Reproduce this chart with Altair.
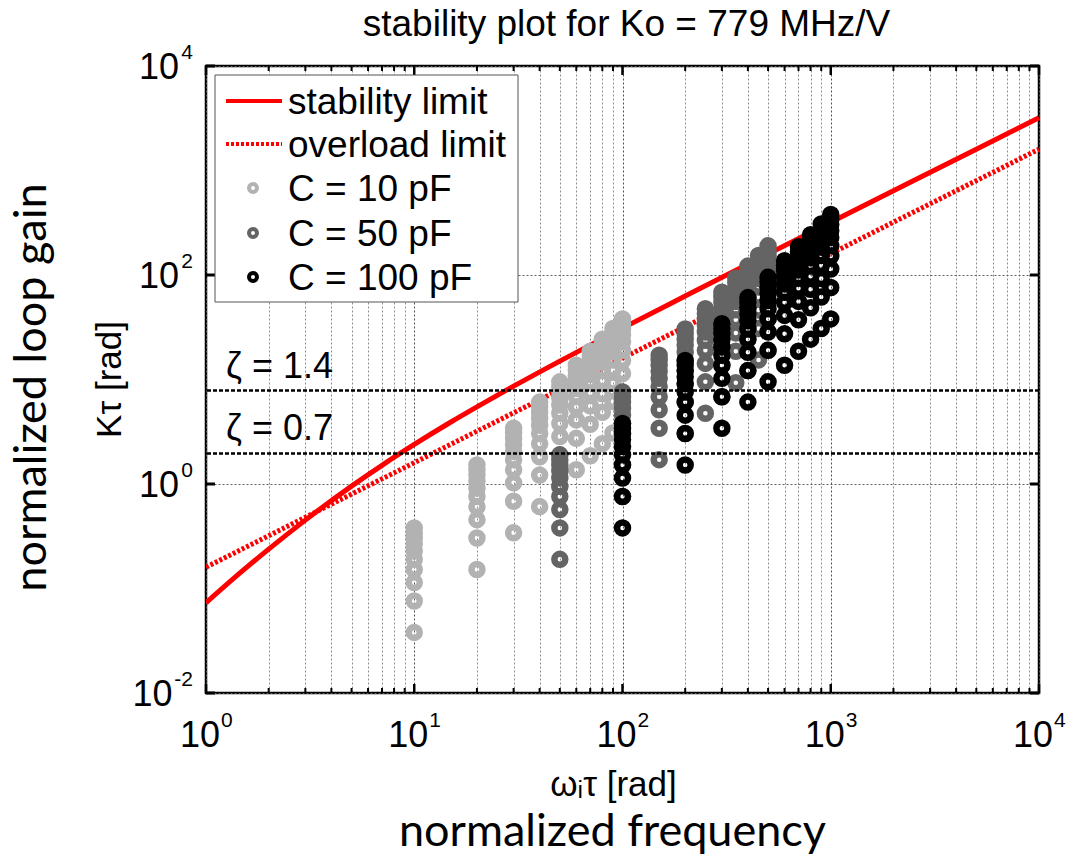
import altair as alt
import pandas as pd

TITLE = "stability plot for Ko = 779 MHz/V"
FONT = "Liberation Sans"
W, H = 833, 627

# stability and overload limits: normalized loop gain vs normalized frequency
stab_freq = [1, 1.5, 2, 3, 5, 7, 10, 15, 20, 30, 50, 100, 200, 500, 1000, 2000, 5000, 10000]
stab_gain = [0.073, 0.148, 0.238, 0.451, 0.955, 1.51, 2.39, 3.92, 5.47, 8.63, 15.0, 31.0,
             62.9, 159, 319, 639, 1600, 3200]
over_freq = [1, 10, 100, 1000, 10000]
over_gain = [0.16, 1.6, 16, 160, 1600]

# damping-ratio reference levels
zeta_labels = ["ζ = 1.4", "ζ = 0.7"]
zeta_gain = [7.84, 1.96]

# loop settings per capacitance: one column of gains for each integrator frequency
c10_freq = [10, 20, 30, 40, 50, 60, 70, 80, 90, 100]
c10_gain = [
    [0.038, 0.076, 0.114, 0.152, 0.19, 0.228, 0.266, 0.304, 0.342, 0.38],
    [0.152, 0.304, 0.456, 0.608, 0.76, 0.912, 1.064, 1.216, 1.368, 1.52],
    [0.342, 0.684, 1.026, 1.368, 1.71, 2.052, 2.394, 2.736, 3.078, 3.42],
    [0.608, 1.216, 1.824, 2.432, 3.04, 3.648, 4.256, 4.864, 5.472, 6.08],
    [0.95, 1.9, 2.85, 3.8, 4.75, 5.7, 6.65, 7.6, 8.55, 9.5],
    [1.368, 2.736, 4.104, 5.472, 6.84, 8.208, 9.576, 10.94, 12.31, 13.68],
    [1.862, 3.724, 5.586, 7.448, 9.31, 11.17, 13.03, 14.9, 16.76, 18.62],
    [2.432, 4.864, 7.296, 9.728, 12.16, 14.59, 17.02, 19.46, 21.89, 24.32],
    [3.078, 6.156, 9.234, 12.31, 15.39, 18.47, 21.55, 24.62, 27.7, 30.78],
    [3.8, 7.6, 11.4, 15.2, 19.0, 22.8, 26.6, 30.4, 34.2, 38.0],
]
c50_freq = [50, 100, 150, 200, 250, 300, 350, 400, 450, 500]
c50_gain = [
    [0.19, 0.38, 0.57, 0.76, 0.95, 1.14, 1.33, 1.52, 1.71, 1.9],
    [0.76, 1.52, 2.28, 3.04, 3.8, 4.56, 5.32, 6.08, 6.84, 7.6],
    [1.71, 3.42, 5.13, 6.84, 8.55, 10.26, 11.97, 13.68, 15.39, 17.1],
    [3.04, 6.08, 9.12, 12.16, 15.2, 18.24, 21.28, 24.32, 27.36, 30.4],
    [4.75, 9.5, 14.25, 19.0, 23.75, 28.5, 33.25, 38.0, 42.75, 47.5],
    [6.84, 13.68, 20.52, 27.36, 34.2, 41.04, 47.88, 54.72, 61.56, 68.4],
    [9.31, 18.62, 27.93, 37.24, 46.55, 55.86, 65.17, 74.48, 83.79, 93.1],
    [12.16, 24.32, 36.48, 48.64, 60.8, 72.96, 85.12, 97.28, 109.4, 121.6],
    [15.39, 30.78, 46.17, 61.56, 76.95, 92.34, 107.7, 123.1, 138.5, 153.9],
    [19.0, 38.0, 57.0, 76.0, 95.0, 114.0, 133.0, 152.0, 171.0, 190.0],
]
c100_freq = [100, 200, 300, 400, 500, 600, 700, 800, 900, 1000]
c100_gain = [
    [0.38, 0.76, 1.14, 1.52, 1.9, 2.28, 2.66, 3.04, 3.42, 3.8],
    [1.52, 3.04, 4.56, 6.08, 7.6, 9.12, 10.64, 12.16, 13.68, 15.2],
    [3.42, 6.84, 10.26, 13.68, 17.1, 20.52, 23.94, 27.36, 30.78, 34.2],
    [6.08, 12.16, 18.24, 24.32, 30.4, 36.48, 42.56, 48.64, 54.72, 60.8],
    [9.5, 19.0, 28.5, 38.0, 47.5, 57.0, 66.5, 76.0, 85.5, 95.0],
    [13.68, 27.36, 41.04, 54.72, 68.4, 82.08, 95.76, 109.4, 123.1, 136.8],
    [18.62, 37.24, 55.86, 74.48, 93.1, 111.7, 130.3, 149.0, 167.6, 186.2],
    [24.32, 48.64, 72.96, 97.28, 121.6, 145.9, 170.2, 194.6, 218.9, 243.2],
    [30.78, 61.56, 92.34, 123.1, 153.9, 184.7, 215.5, 246.2, 277.0, 307.8],
    [38.0, 76.0, 114.0, 152.0, 190.0, 228.0, 266.0, 304.0, 342.0, 380.0],
]

series_names = ["C = 10 pF", "C = 50 pF", "C = 100 pF"]
series_colors = ["#b2b2b2", "#646464", "#000000"]
legend_labels = ["stability limit", "overload limit"] + series_names

# decade tick labels, written as base and exponent
x_decades = [1, 10, 100, 1000, 10000]
x_exponents = ["0", "1", "2", "3", "4"]
y_decades = [0.01, 1, 100, 10000]
y_exponents = ["-2", "0", "2", "4"]
x_grid = [m * d for d in [1, 10, 100, 1000] for m in range(1, 10)] + [10000]

major_test = "indexof([1, 10, 100, 1000, 10000], datum.value) >= 0"

x_axis = alt.Axis(
    values=x_grid, labels=False,
    grid=True, gridDash=[2, 2], gridWidth=1,
    gridColor={"condition": {"test": major_test, "value": "#505050"}, "value": "#8c8c8c"},
    ticks=False, tickSize=0, domain=False, title=None,
)
y_axis = alt.Axis(
    values=y_decades, labels=False,
    grid=True, gridDash=[2, 2], gridWidth=1, gridColor="#606060",
    ticks=False, tickSize=0, domain=False, title=None,
)

X = alt.X("freq:Q", scale=alt.Scale(type="log", domain=[1, 10000], nice=False), axis=x_axis)
Y = alt.Y("gain:Q", scale=alt.Scale(type="log", domain=[0.01, 10000], nice=False), axis=y_axis)

layers = []

# limit curves
stab_df = pd.DataFrame({"freq": stab_freq, "gain": stab_gain})
over_df = pd.DataFrame({"freq": over_freq, "gain": over_gain})
layers.append(alt.Chart(stab_df).mark_line(color="#ff0000", strokeWidth=5, clip=True,
                                           interpolate="monotone").encode(x=X, y=Y))
layers.append(alt.Chart(over_df).mark_line(color="#ff0000", strokeWidth=5, strokeDash=[3, 2],
                                           clip=True).encode(x=X, y=Y))

# loop-setting rings, drawn from the smallest capacitance up
for name, color, freqs, gains in zip(series_names, series_colors,
                                     [c10_freq, c50_freq, c100_freq],
                                     [c10_gain, c50_gain, c100_gain]):
    df = pd.DataFrame([{"freq": f, "gain": g, "series": name}
                       for f, col in zip(freqs, gains) for g in col])
    layers.append(alt.Chart(df).mark_point(shape="circle", filled=False, size=121, strokeWidth=6.5,
                                           color=color, opacity=1, clip=True).encode(x=X, y=Y))

# damping-ratio levels and their labels
zeta_df = pd.DataFrame({"gain": zeta_gain, "label": zeta_labels})
layers.append(alt.Chart(zeta_df).mark_rule(color="black", strokeWidth=2.5, strokeDash=[4, 2])
              .encode(y=Y))
layers.append(alt.Chart(zeta_df).mark_text(font=FONT, fontSize=36, align="left", baseline="middle",
                                           dy=-24, color="black")
              .encode(x=alt.value(20), y=Y, text="label:N"))

# inward ticks on all four sides
xt = pd.DataFrame({"freq": x_grid})
xt["major"] = xt["freq"].isin(x_decades)
for major, length, sw in [(False, 5, 2), (True, 9, 2.5)]:
    sub = xt[xt["major"] == major]
    layers.append(alt.Chart(sub).mark_rule(color="black", strokeWidth=sw)
                  .encode(x=X, y=alt.value(H), y2=alt.value(H - length)))
    layers.append(alt.Chart(sub).mark_rule(color="black", strokeWidth=sw)
                  .encode(x=X, y=alt.value(0), y2=alt.value(length)))
yt = pd.DataFrame({"gain": y_decades})
layers.append(alt.Chart(yt).mark_rule(color="black", strokeWidth=3)
              .encode(y=Y, x=alt.value(0), x2=alt.value(9)))
layers.append(alt.Chart(yt).mark_rule(color="black", strokeWidth=3)
              .encode(y=Y, x=alt.value(W - 9), x2=alt.value(W)))

# decade tick labels: "10" plus a raised exponent
BASE_SIZE, EXP_SIZE = 36, 21
for v, e in zip(x_decades, x_exponents):
    row = pd.DataFrame({"freq": [v], "b": ["10"], "e": [e]})
    layers.append(alt.Chart(row).mark_text(font=FONT, fontSize=BASE_SIZE, align="center",
                                           baseline="alphabetic", dx=-6, color="black")
                  .encode(x=X, y=alt.value(H + 54), text="b:N"))
    layers.append(alt.Chart(row).mark_text(font=FONT, fontSize=EXP_SIZE, align="left",
                                           baseline="alphabetic", dx=15, color="black")
                  .encode(x=X, y=alt.value(H + 34), text="e:N"))
for v, e in zip(y_decades, y_exponents):
    row = pd.DataFrame({"gain": [v], "b": ["10"], "e": [e]})
    exp_w = 6.5 * len(e) + 5.5
    layers.append(alt.Chart(row).mark_text(font=FONT, fontSize=EXP_SIZE, align="right",
                                           baseline="alphabetic", dy=-7, color="black")
                  .encode(x=alt.value(-13), y=Y, text="e:N"))
    layers.append(alt.Chart(row).mark_text(font=FONT, fontSize=BASE_SIZE, align="right",
                                           baseline="alphabetic", dy=13, color="black")
                  .encode(x=alt.value(-13 - exp_w - 2), y=Y, text="b:N"))

# legend box
leg_rows = [35, 78, 122, 167, 211]
layers.append(alt.Chart(pd.DataFrame({"k": [0]})).mark_rect(fill="white", stroke="#555555", strokeWidth=1)
              .encode(x=alt.value(9), x2=alt.value(312), y=alt.value(9), y2=alt.value(236)))
for i, label in enumerate(legend_labels):
    row = pd.DataFrame({"label": [label]})
    if i == 0:
        sym = alt.Chart(row).mark_rule(color="#ff0000", strokeWidth=4).encode(
            x=alt.value(20), x2=alt.value(76), y=alt.value(leg_rows[i]))
    elif i == 1:
        sym = alt.Chart(row).mark_rule(color="#ff0000", strokeWidth=4, strokeDash=[3, 2]).encode(
            x=alt.value(20), x2=alt.value(76), y=alt.value(leg_rows[i]))
    else:
        sym = alt.Chart(row).mark_point(shape="circle", filled=False, size=64, strokeWidth=4,
                                        opacity=1, color=series_colors[i - 2]).encode(
            x=alt.value(47), y=alt.value(leg_rows[i]))
    layers.append(sym)
    layers.append(alt.Chart(row).mark_text(font=FONT, fontSize=37, align="left", baseline="middle",
                                           color="black")
                  .encode(x=alt.value(82), y=alt.value(leg_rows[i] + 2), text="label:N"))

# titles
texts = [
    (TITLE, FONT, 37, W / 2 + 4, -30, 0, "alphabetic"),
    ("Kτ [rad]", FONT, 35, -96, H / 2, 270, "middle"),
    ("ωᵢτ [rad]", FONT, 35, W / 2 - 9, 719, 0, "middle"),
    ("normalized loop gain", "Lato", 45, -174, H / 2 + 8, 270, "middle"),
    ("normalized frequency", "Lato", 45, W / 2 - 10, 766, 0, "middle"),
]
for txt, font, size, px, py, ang, base in texts:
    layers.append(alt.Chart(pd.DataFrame({"t": [txt]})).mark_text(
        font=font, fontSize=size, angle=ang, align="center", baseline=base, color="black")
        .encode(x=alt.value(px), y=alt.value(py), text="t:N"))

chart = (
    alt.layer(*layers)
    .properties(width=W, height=H, autosize=alt.AutoSizeParams(type="none"),
                padding={"left": 206, "top": 66, "right": 32, "bottom": 168})
    .configure(background="white")
    .configure_view(stroke="black", strokeWidth=2.5)
)

chart.save("out.html", embed_options={"renderer": "svg", "actions": False})
